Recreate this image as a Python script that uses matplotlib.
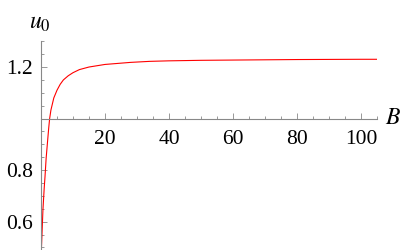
import matplotlib
matplotlib.use("Agg")
import matplotlib.pyplot as plt
from matplotlib.ticker import MultipleLocator, FixedLocator

B = [0, 0.2, 0.6, 1.0, 1.25, 1.6, 2.0, 2.4, 2.7, 3.1, 4.0, 5.0, 6.0, 7.0, 8.5, 10, 12, 15, 20, 28, 34, 40, 50, 60, 80, 100, 105]
u0 = [0.46, 0.516, 0.645, 0.73, 0.774, 0.845, 0.904, 0.962, 1.0, 1.033, 1.08, 1.11, 1.133, 1.15, 1.166, 1.178, 1.19, 1.2, 1.21, 1.218, 1.222, 1.224, 1.226, 1.227, 1.229, 1.23, 1.23]
xticks = [20, 40, 60, 80, 100]
yticks = [0.6, 0.8, 1.2]

plt.rcParams['font.family'] = ['Liberation Serif', 'DejaVu Serif']
plt.rcParams['mathtext.fontset'] = 'stix'

fig = plt.figure(figsize=(4.05, 2.5), dpi=100)
ax = fig.add_axes([41/405, 0.0, 336/405, (250-41.25)/250])
ax.plot(B, u0, color='red', lw=0.8, clip_on=True)
ax.set_xlim(0, 105)
ax.set_ylim(0.49, 1.3)

for s in ['top', 'right']:
    ax.spines[s].set_visible(False)
ax.spines['left'].set_position(('data', 0))
ax.spines['bottom'].set_position(('data', 1.0))
for s in ['left', 'bottom']:
    ax.spines[s].set_color('#888888')
    ax.spines[s].set_linewidth(0.8)

ax.xaxis.set_major_locator(FixedLocator(xticks))
ax.xaxis.set_minor_locator(MultipleLocator(5))
ax.yaxis.set_major_locator(FixedLocator(yticks))
ax.yaxis.set_minor_locator(MultipleLocator(0.05))
ax.set_xticklabels([str(t) for t in xticks])
ax.set_yticklabels([f"{t:.1f}" for t in yticks])
ax.tick_params(which='both', direction='in', color='#888888', width=0.6, labelsize=15.5)
ax.tick_params(which='major', length=4)
ax.tick_params(which='minor', length=2)
ax.tick_params(axis='x', which='major', pad=8)
ax.tick_params(axis='y', which='major', pad=6)

fig.text(40/405, 1 - 24/250, r'$u_0$', fontsize=17, ha='center', va='center')
fig.text(385/405, 1 - 118/250, r'$B$', fontsize=17, ha='left', va='center')

fig.savefig('out.png', dpi=100)
